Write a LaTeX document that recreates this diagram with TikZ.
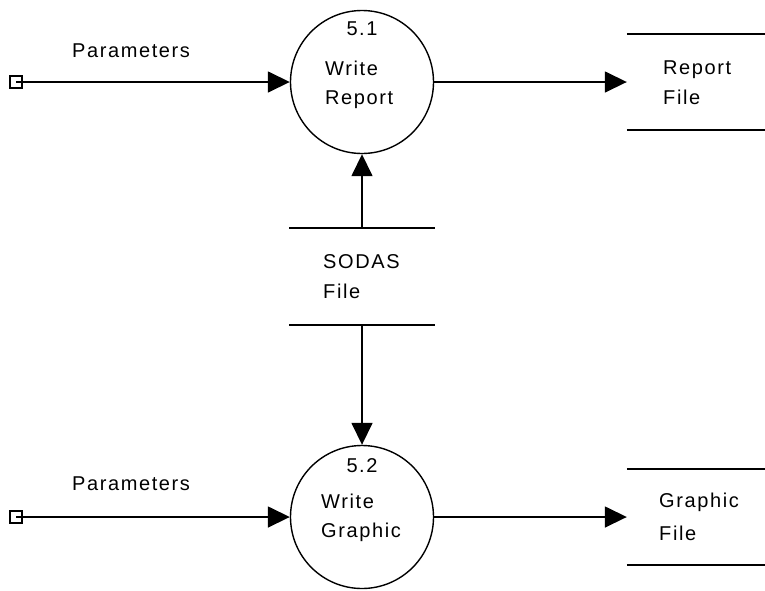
\documentclass[tikz,border=0pt]{standalone}
\usepackage{fontspec}
\setmainfont{Liberation Sans}[LetterSpace=8]
\usetikzlibrary{arrows.meta}
\tikzset{
  proc/.style={circle, draw, line width=1.4pt, minimum size=143pt, inner sep=0pt},
  src/.style={rectangle, draw, line width=1.6pt, minimum size=12pt, inner sep=0pt, fill=white},
  store/.style={rectangle, minimum width=138pt, minimum height=96pt, inner sep=0pt},
  storeline/.style={line width=1.9pt},
  flow/.style={line width=1.6pt, -{Triangle[length=22pt, width=21pt]}},
  lbl/.style={inner sep=0pt, anchor=base west, font=\fontsize{20}{24}\selectfont},
  num/.style={inner sep=0pt, anchor=base, font=\fontsize{20}{24}\selectfont},
}
\begin{document}
\begin{tikzpicture}[x=1pt, y=-1pt]
\useasboundingbox[fill=white] (0,0) rectangle (765,590);

% processes
\node[proc] (p1) at (362,82) {};
\node[proc] (p2) at (362,517) {};
\node[num] at (362,35) {5.1};
\node[lbl] at (325,75) {Write};
\node[lbl] at (325,104) {Report};
\node[num] at (362,472) {5.2};
\node[lbl] at (321,508) {Write};
\node[lbl] at (321,537) {Graphic};

% data stores
\node[store] (rf) at (696,82) {};
\draw[storeline] (rf.north west) -- (rf.north east);
\draw[storeline] (rf.south west) -- (rf.south east);
\node[lbl] at (663,74) {Report};
\node[lbl] at (663,104) {File};

\node[store] (gf) at (696,517) {};
\draw[storeline] (gf.north west) -- (gf.north east);
\draw[storeline] (gf.south west) -- (gf.south east);
\node[lbl] at (659,507) {Graphic};
\node[lbl] at (659,540) {File};

\node[store, minimum width=145pt, minimum height=97pt] (sf) at (362,276.5) {};
\draw[storeline] (sf.north west) -- (sf.north east);
\draw[storeline] (sf.south west) -- (sf.south east);
\node[lbl] at (323,268) {SODAS};
\node[lbl] at (323,298) {File};

% external sources
\node[src] (e1) at (16,82) {};
\node[src] (e2) at (16,517) {};
\node[lbl] at (72,57) {Parameters};
\node[lbl] at (72,490) {Parameters};

% flows
\draw[flow] (e1.center) -- (p1.west);
\draw[flow] (e2.center) -- (p2.west);
\draw[flow] (p1.east) -- (rf.west);
\draw[flow] (p2.east) -- (gf.west);
\draw[flow] (sf.north) -- (p1.south);
\draw[flow] (sf.south) -- (p2.north);
\end{tikzpicture}
\end{document}
